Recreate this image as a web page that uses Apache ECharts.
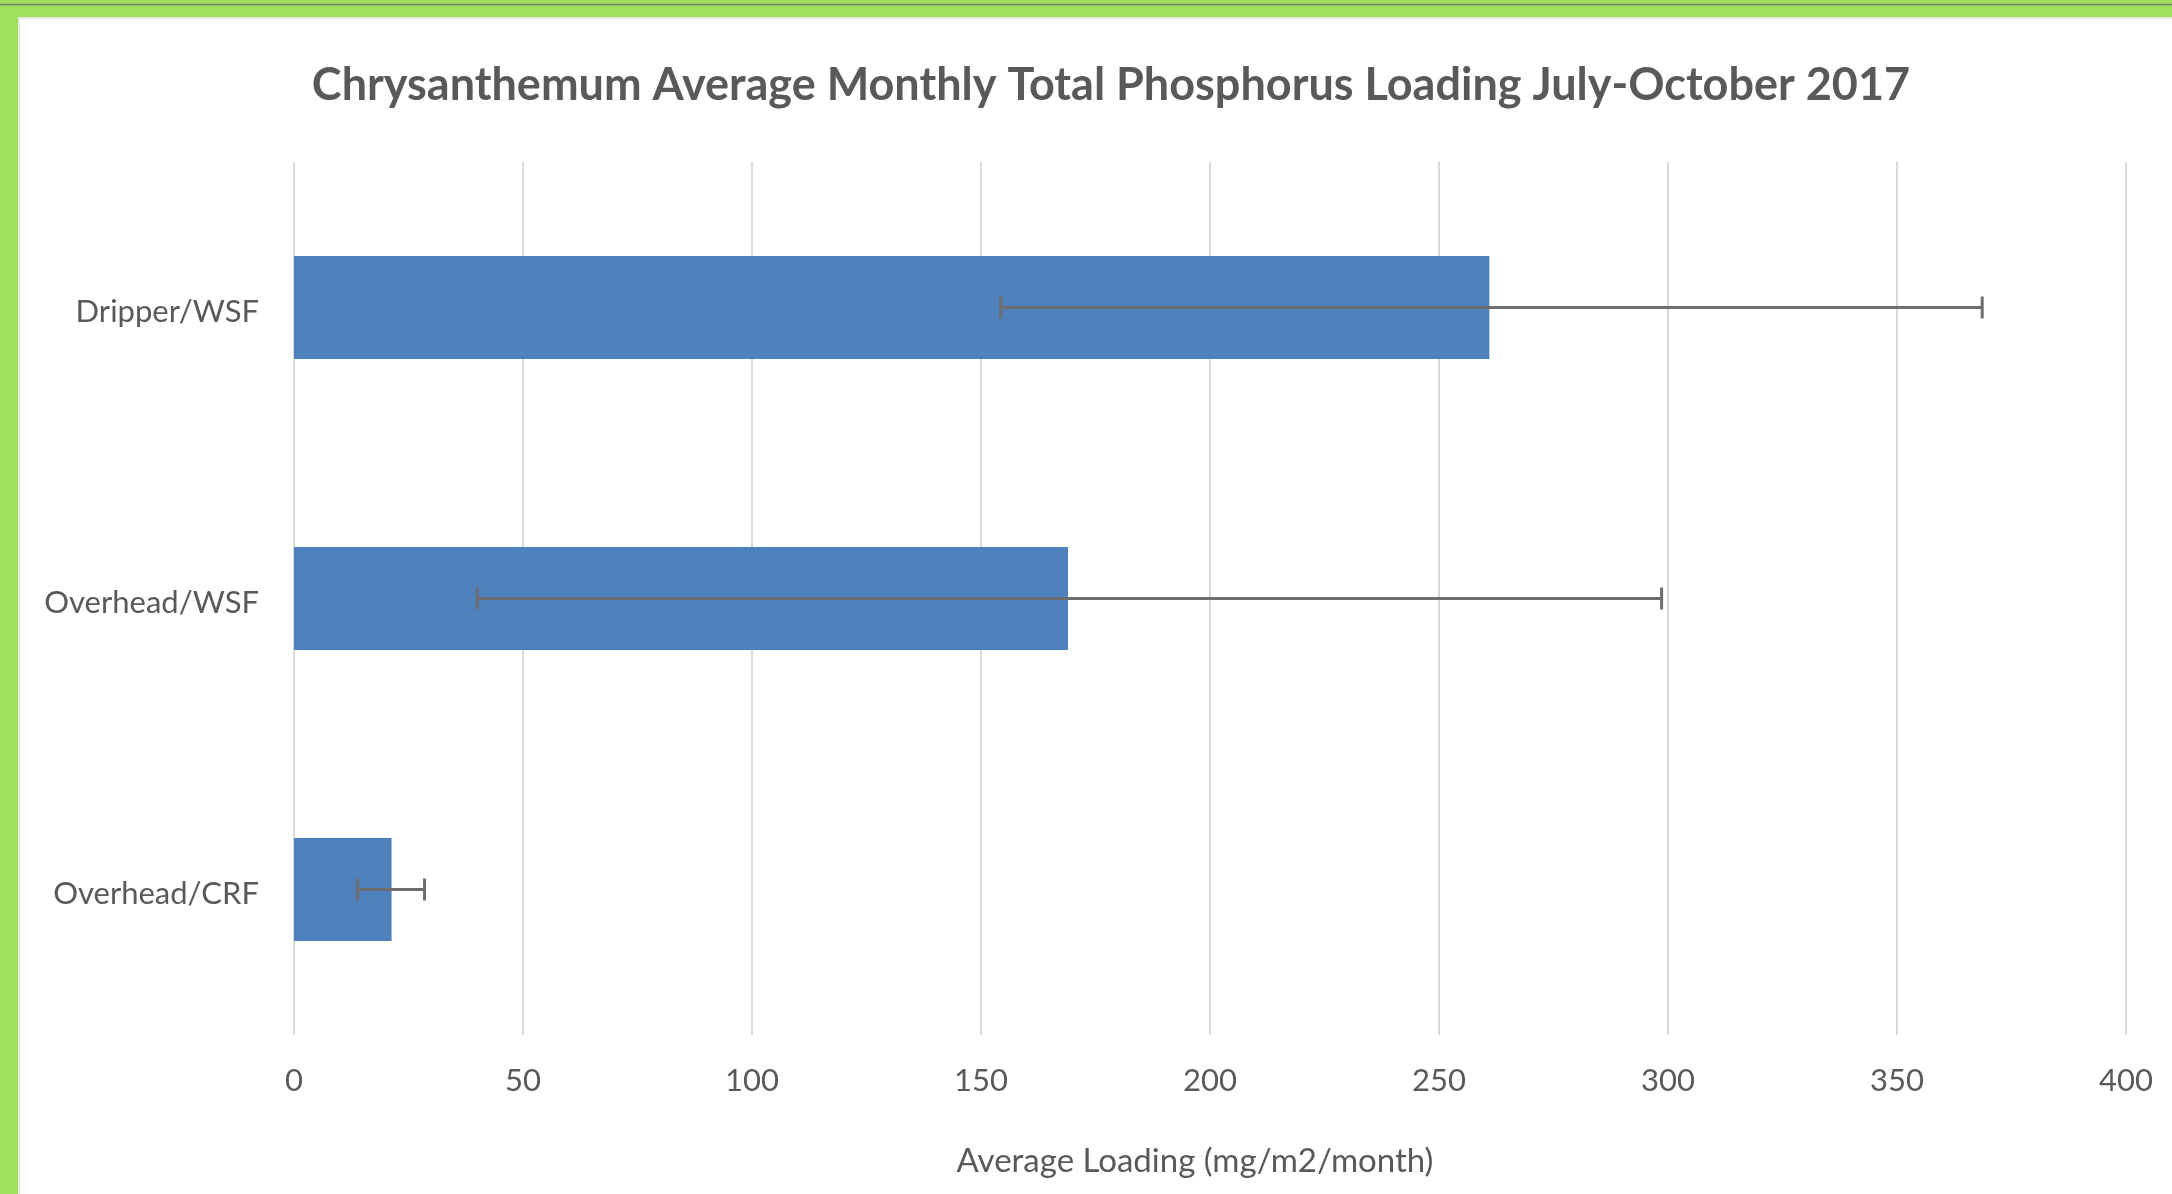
<!DOCTYPE html>
<html>
<head>
<meta charset="utf-8">
<script src="https://cdn.jsdelivr.net/npm/echarts@6/dist/echarts.min.js"></script>
<style>
html,body{margin:0;padding:0;background:#fff;}
#c{width:2172px;height:1194px;}
</style>
</head>
<body>
<div id="c"></div>
<script>
const categories = ['Dripper/WSF', 'Overhead/WSF', 'Overhead/CRF'];
const means = [261, 169, 21.3];
const errLow = [154.3, 40, 13.9];
const errHigh = [368.6, 298.6, 28.5];
const xMin = 0, xMax = 400, xStep = 50;
const titleText = 'Chrysanthemum Average Monthly Total Phosphorus Loading July-October 2017';
const xAxisName = 'Average Loading (mg/m2/month)';

const chart = echarts.init(document.getElementById('c'), null, {renderer: 'canvas'});
const FONT = 'Lato';
const TXT = '#595959';

const errData = categories.map((c, i) => [i, errLow[i], errHigh[i]]);

chart.setOption({
  backgroundColor: '#ffffff',
  animation: false,
  title: {
    text: titleText,
    left: 1106,
    textAlign: 'center',
    top: 58,
    textStyle: {fontFamily: FONT, fontWeight: 'bold', fontSize: 45, color: TXT}
  },
  grid: {left: 294, right: 46, top: 162, bottom: 159, containLabel: false},
  xAxis: {
    type: 'value',
    min: xMin, max: xMax, interval: xStep,
    name: xAxisName,
    nameLocation: 'middle',
    nameGap: 110,
    nameTextStyle: {fontFamily: FONT, fontSize: 33, color: TXT, padding: [0, 30, 0, 0]},
    axisLine: {show: false},
    axisTick: {show: false},
    axisLabel: {fontFamily: FONT, fontSize: 31, color: TXT, margin: 30},
    splitLine: {show: true, lineStyle: {color: '#d9d9d9', width: 2}}
  },
  yAxis: {
    type: 'category',
    data: categories,
    inverse: true,
    axisLine: {show: false},
    axisTick: {show: false},
    axisLabel: {
      margin: 35,
      formatter: function (v) { return '{a|' + v + '}'; },
      rich: {a: {fontFamily: FONT, fontSize: 31, color: TXT, padding: [8, 0, 0, 0]}}
    },
    splitLine: {show: false}
  },
  series: [
    {
      type: 'bar',
      data: means,
      barWidth: '35.4%',
      itemStyle: {color: '#4f81bd'}
    },
    {
      type: 'custom',
      data: errData,
      z: 10,
      renderItem: function (params, api) {
        const idx = api.value(0);
        const lo = api.coord([api.value(1), idx]);
        const hi = api.coord([api.value(2), idx]);
        const h = 11;
        const style = {stroke: '#6e6e6e', lineWidth: 3};
        return {
          type: 'group',
          children: [
            {type: 'line', shape: {x1: lo[0], y1: lo[1], x2: hi[0], y2: hi[1]}, style: style},
            {type: 'line', shape: {x1: lo[0], y1: lo[1] - h, x2: lo[0], y2: lo[1] + h}, style: style},
            {type: 'line', shape: {x1: hi[0], y1: hi[1] - h, x2: hi[0], y2: hi[1] + h}, style: style}
          ]
        };
      }
    }
  ],
  graphic: [
    {type: 'rect', shape: {x: 0, y: 0, width: 2172, height: 17}, style: {fill: '#9ee05c'}, z: 100},
    {type: 'rect', shape: {x: 0, y: 0, width: 18, height: 1194}, style: {fill: '#9ee05c'}, z: 100},
    {type: 'line', shape: {x1: 0, y1: 4.5, x2: 2172, y2: 4.5}, style: {stroke: '#7a7a7a', lineWidth: 1.5}, z: 101},
    {type: 'line', shape: {x1: 18, y1: 18, x2: 2172, y2: 18}, style: {stroke: '#e6e6e6', lineWidth: 2}, z: 100},
    {type: 'line', shape: {x1: 19, y1: 17, x2: 19, y2: 1194}, style: {stroke: '#e6e6e6', lineWidth: 2}, z: 100}
  ]
});
</script>
</body>
</html>
